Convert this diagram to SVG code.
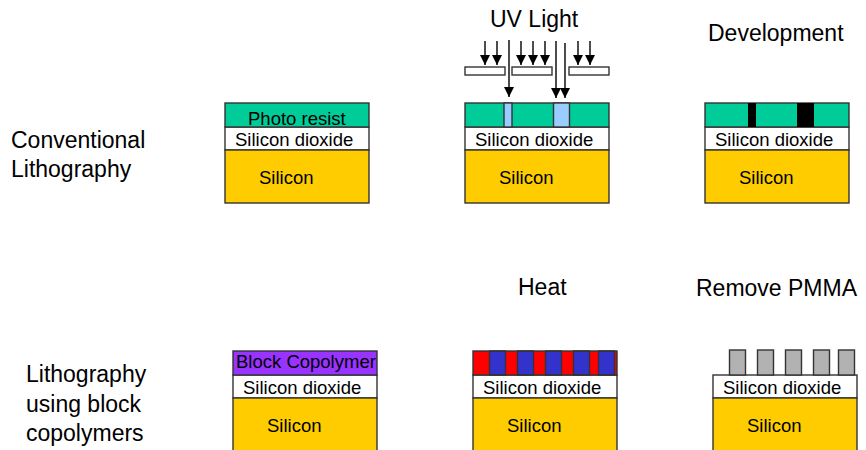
<svg xmlns="http://www.w3.org/2000/svg" width="866" height="450" viewBox="0 0 866 450">
<style>
text{font-family:"Liberation Sans",Arial,sans-serif;fill:#000}
.l{font-size:23px}
.s{font-size:18.5px}
.b{stroke:#333;stroke-width:1.4}
.g{fill:#00cc99}.w{fill:#fff}.y{fill:#ffcc00}.u{fill:#99ccff}.k{fill:#000}.r{fill:#ff0000}.n{fill:#3333cc}.a{fill:#b2b2b2}.p{fill:#9933ff}
.c{stroke:#000;stroke-width:1.4;fill:none}
</style>
<defs>
<g id="stack"><rect class="w b" x="0" y="24" width="144" height="23"/><rect class="y b" x="0" y="47" width="144" height="53"/><text class="s" x="10" y="43">Silicon dioxide</text><text class="s" x="34" y="81">Silicon</text></g>
<marker id="ah" markerUnits="userSpaceOnUse" markerWidth="10" markerHeight="11" refX="10" refY="5" orient="auto"><path d="M0 0L10 5L0 10Z" fill="#000"/></marker>
</defs>
<g id="label-conventional"><text class="l" x="11" y="148">Conventional</text><text class="l" x="11" y="177">Lithography</text></g>
<g id="label-block"><text class="l" x="26" y="382">Lithography</text><text class="l" x="26" y="412">using block</text><text class="l" x="26" y="441">copolymers</text></g>
<g id="photo-resist"><use href="#stack" x="225" y="103"/><rect class="g b" x="225" y="103" width="144" height="24"/><text class="s" x="248" y="125">Photo resist</text></g>
<g id="uv-exposure"><text class="l" x="490" y="27">UV Light</text><use href="#stack" x="465" y="103"/><rect class="g b" x="465" y="103" width="144" height="24"/><rect class="u b" x="504" y="103" width="8" height="24"/><rect class="u b" x="553.500" y="103" width="16" height="24"/><rect class="w b" x="465" y="67" width="40" height="8"/><rect class="w b" x="512" y="67" width="40" height="8"/><rect class="w b" x="569" y="67" width="40" height="8"/></g>
<g id="development"><text class="l" x="708" y="41">Development</text><use href="#stack" x="705" y="103"/><rect class="g b" x="705" y="103" width="144" height="24"/><rect class="k" x="748" y="103" width="8" height="24"/><rect class="k" x="797" y="103" width="17" height="24"/></g>
<g id="block-copolymer"><use href="#stack" x="233" y="351"/><rect class="p b" x="233" y="351" width="144" height="24"/><text class="s" x="236" y="368">Block Copolymer</text></g>
<g id="heat"><text class="l" x="518" y="295">Heat</text><use href="#stack" x="473" y="351"/><rect class="r" x="473" y="351" width="144" height="24"/><rect class="n b" x="489.500" y="351" width="16" height="24"/><rect class="n b" x="517.500" y="351" width="16" height="24"/><rect class="n b" x="545.500" y="351" width="16" height="24"/><rect class="n b" x="573.500" y="351" width="16" height="24"/><rect class="n b" x="598.500" y="351" width="16" height="24"/><rect class="b" x="473" y="351" width="144" height="24" fill="none"/></g>
<g id="remove-pmma"><text class="l" x="696" y="296">Remove PMMA</text><use href="#stack" x="713" y="351"/><rect class="a b" x="729.500" y="350" width="16" height="25"/><rect class="a b" x="757.500" y="350" width="16" height="25"/><rect class="a b" x="785.500" y="350" width="16" height="25"/><rect class="a b" x="813.500" y="350" width="16" height="25"/><rect class="a b" x="838.500" y="350" width="16" height="25"/></g>
<g id="connectors">
<path class="c" marker-end="url(#ah)" d="M485 41V65"/><path class="c" marker-end="url(#ah)" d="M497 41V65"/><path class="c" marker-end="url(#ah)" d="M521 41V65"/><path class="c" marker-end="url(#ah)" d="M533 41V65"/><path class="c" marker-end="url(#ah)" d="M545 41V65"/><path class="c" marker-end="url(#ah)" d="M578 41V65"/><path class="c" marker-end="url(#ah)" d="M590 41V65"/>
<path class="c" marker-end="url(#ah)" d="M509 40V97"/><path class="c" marker-end="url(#ah)" d="M556 41V98"/><path class="c" marker-end="url(#ah)" d="M565 43V98"/>
</g>
</svg>
